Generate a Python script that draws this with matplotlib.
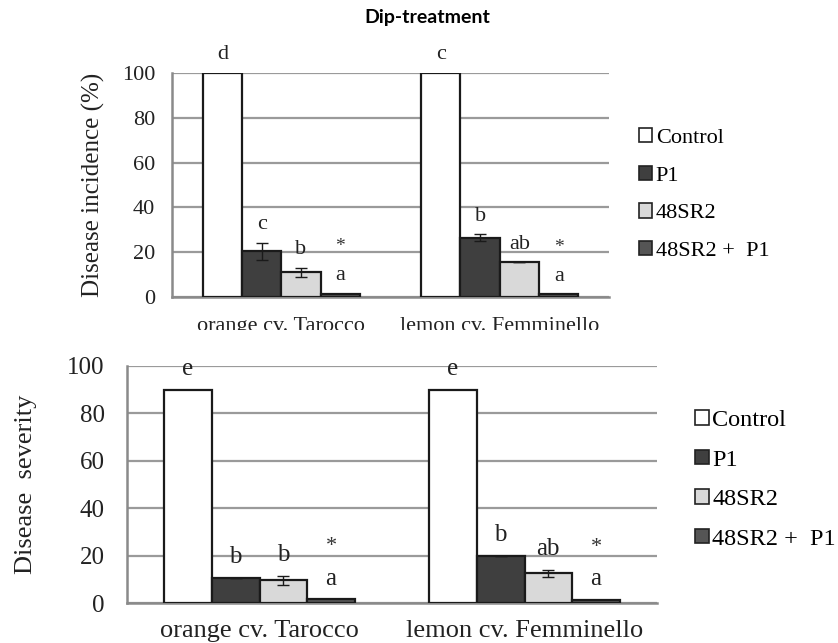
import matplotlib
matplotlib.use("Agg")
import matplotlib.pyplot as plt
import numpy as np
from matplotlib.patches import Patch
from matplotlib.transforms import Bbox, TransformedBbox

plt.rcParams['font.family'] = ['Liberation Serif', 'DejaVu Serif']

# ---- data ----
cultivars = ["orange cv. Tarocco", "lemon cv. Femminello"]
treatments = ["Control", "P1", "48SR2", "48SR2 +  P1"]
bar_colors = ["#ffffff", "#3f3f3f", "#d9d9d9", "#555555"]

# Disease incidence (%) per treatment: [orange, lemon]
inc_control = [100, 100]
inc_p1 = [20.5, 26.5]
inc_48sr2 = [11, 15.5]
inc_combo = [1.5, 1.2]
inc_p1_err = [3.8, 1.5]
inc_48sr2_err = [2.0, 0.0]
inc_letters = [["d", "c", "b", "a"], ["c", "b", "ab", "a"]]

# Disease severity per treatment: [orange, lemon]
sev_control = [90, 90]
sev_p1 = [10.5, 20]
sev_48sr2 = [9.5, 12.5]
sev_combo = [1.5, 1.3]
sev_p1_err = [0.0, 0.0]
sev_48sr2_err = [1.8, 1.5]
sev_letters = [["e", "b", "b", "a"], ["e", "b", "ab", "a"]]

yticks = [0, 20, 40, 60, 80, 100]

W, H = 838, 643
fig = plt.figure(figsize=(W / 100, H / 100), dpi=100)


def px_axes(left, right, top, bottom):
    return fig.add_axes([left / W, (H - bottom) / H, (right - left) / W, (bottom - top) / H])


def draw_panel(ax, series, errs, letters, fs, tick_pad, letter_off, star_gap):
    x = np.arange(len(cultivars))
    width = 0.18
    offsets = (np.arange(4) - 1.5) * width
    for i, (vals, err) in enumerate(zip(series, errs)):
        ax.bar(x + offsets[i], vals, width, color=bar_colors[i], edgecolor="#1a1a1a",
               linewidth=1.6, zorder=3)
        if err is not None:
            ax.errorbar(x + offsets[i], vals, yerr=err, fmt="none", ecolor="#1a1a1a",
                        elinewidth=1.0, capsize=4, capthick=1.0, zorder=4)
    for c in range(len(cultivars)):
        for i in range(4):
            top = series[i][c] + (errs[i][c] if errs[i] is not None else 0)
            ax.annotate(letters[c][i], (x[c] + offsets[i], top), xytext=(0, letter_off),
                        textcoords="offset points", ha="center", va="center",
                        fontsize=fs, color="#222222", zorder=5)
            if i == 3:
                ax.annotate("*", (x[c] + offsets[i], top), xytext=(0, letter_off + star_gap),
                            textcoords="offset points", ha="center", va="center",
                            fontsize=fs - 2, color="#333333", zorder=5)
    ax.set_xlim(-0.5, 1.5)
    ax.set_ylim(0, 100)
    ax.set_yticks(yticks)
    ax.yaxis.grid(True, color="#9a9a9a", linewidth=1.6, zorder=0)
    ax.set_axisbelow(True)
    for s in ["top", "right"]:
        ax.spines[s].set_visible(False)
    for s in ["left", "bottom"]:
        ax.spines[s].set_color("#8a8a8a")
        ax.spines[s].set_linewidth(1.8)
    ax.tick_params(axis="both", length=0, labelsize=fs, pad=tick_pad, colors="#222222")
    ax.set_xticks([])


# ---- top panel: incidence ----
ax1 = px_axes(172, 609, 73, 297)
draw_panel(ax1, [inc_control, inc_p1, inc_48sr2, inc_combo],
           [None, inc_p1_err, inc_48sr2_err, None], inc_letters,
           fs=16, tick_pad=12, letter_off=13, star_gap=21)
ax1.set_ylabel("Disease incidence (%)", fontsize=18, labelpad=12, color="#222222")

# cultivar names under the top panel, cut off by the lower panel
clip = TransformedBbox(Bbox([[0, (H - 330) / H], [1, 1]]), fig.transFigure)
for c, name in enumerate(cultivars):
    t = ax1.text(c, -13, name, ha="center", va="center", fontsize=16, color="#222222",
                 transform=ax1.transData, clip_on=True)
    t.set_clip_box(clip)

h1 = [Patch(facecolor=col, edgecolor="#222222", linewidth=1.2) for col in bar_colors]
fig.legend(h1, treatments, loc="upper left", bbox_to_anchor=(628 / W, (H - 117) / H),
           frameon=False, fontsize=16, handlelength=0.6, handleheight=0.6,
           handletextpad=0.15, labelspacing=0.8, borderpad=0)

# ---- bottom panel: severity ----
ax2 = px_axes(127, 657, 366, 603)
draw_panel(ax2, [sev_control, sev_p1, sev_48sr2, sev_combo],
           [None, sev_p1_err, sev_48sr2_err, None], sev_letters,
           fs=18, tick_pad=16, letter_off=15, star_gap=23)
ax2.set_ylabel("Disease  severity", fontsize=19, labelpad=22, color="#222222")
for c, name in enumerate(cultivars):
    ax2.text(c, -12, name, ha="center", va="center", fontsize=19, color="#222222",
             transform=ax2.transData, clip_on=False)

fig.legend(h1, treatments, loc="upper left", bbox_to_anchor=(683 / W, (H - 398) / H),
           frameon=False, fontsize=17.5, handlelength=0.55, handleheight=0.55,
           handletextpad=0.15, labelspacing=0.76, borderpad=0)

fig.text(427 / W, 1 - 18 / H, "Dip-treatment", ha="center", va="center",
         fontsize=14, fontweight="bold", family=["Lato", "DejaVu Sans"])

fig.savefig("out.png", dpi=100, facecolor="white")
